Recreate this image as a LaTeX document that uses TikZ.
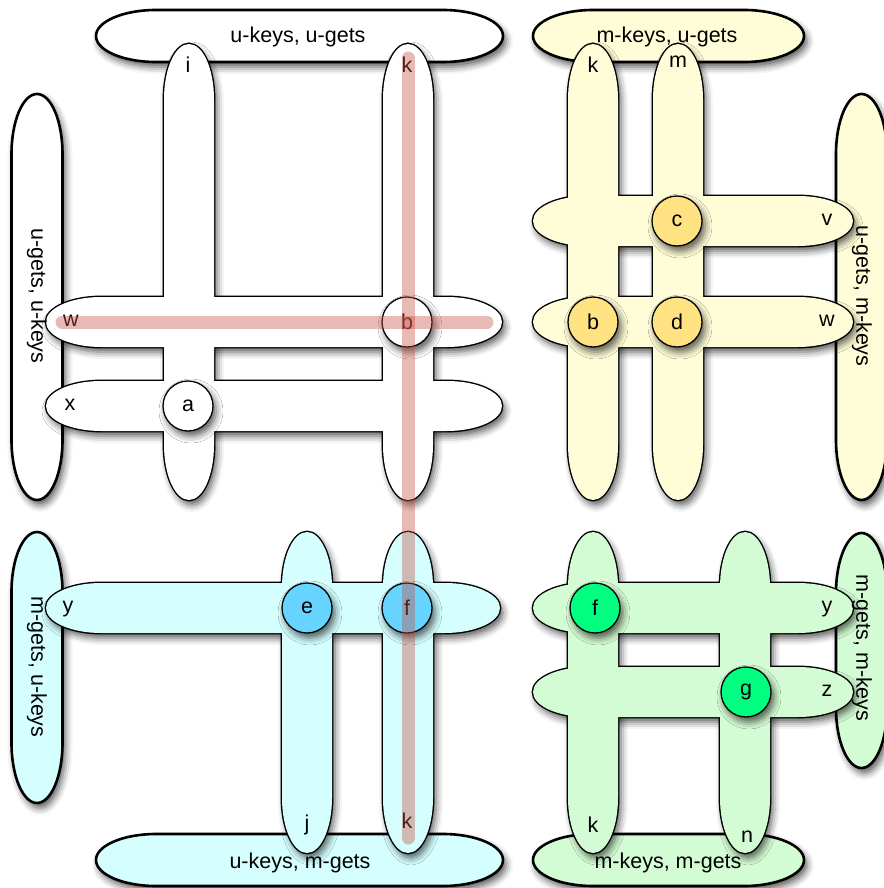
\documentclass[tikz,border=0pt]{standalone}
\usepackage{fontspec}
\setmainfont{Liberation Sans}
\usetikzlibrary{shadows.blur}
\definecolor{yelbar}{RGB}{255,253,216}
\definecolor{yelcirc}{RGB}{255,227,131}
\definecolor{cyanbar}{RGB}{213,255,255}
\definecolor{bluecirc}{RGB}{102,212,255}
\definecolor{grnbar}{RGB}{212,252,212}
\definecolor{grncirc}{RGB}{0,255,128}
\definecolor{redl}{RGB}{200,80,70}
% vertical pill: opts, cx, y1, y2, r, L
\newcommand\pillV[6]{\path[#1] ({#2-#5},{#3+#6}) -- ({#2-#5},{#4-#6}) arc[start angle=180,end angle=0,x radius=#5,y radius=#6] -- ({#2+#5},{#3+#6}) arc[start angle=0,end angle=-180,x radius=#5,y radius=#6] -- cycle;}
% horizontal pill: opts, x1, x2, cy, r, L
\newcommand\pillH[6]{\path[#1] ({#2+#6},{#4-#5}) -- ({#3-#6},{#4-#5}) arc[start angle=-90,end angle=90,x radius=#6,y radius=#5] -- ({#2+#6},{#4+#5}) arc[start angle=90,end angle=270,x radius=#6,y radius=#5] -- cycle;}
\newcommand\barsTL[1]{%
 \pillV{#1}{189}{44}{500}{25}{55}\pillV{#1}{408}{44}{500}{25}{55}%
 \pillH{#1}{46}{502}{322}{25}{55}\pillH{#1}{46}{502}{406}{25}{55}}
\newcommand\barsTR[1]{%
 \pillV{#1}{593}{44}{500}{25}{55}\pillV{#1}{678}{44}{500}{25}{55}%
 \pillH{#1}{533}{853}{221}{25}{55}\pillH{#1}{533}{853}{322}{25}{55}}
\newcommand\barsBL[1]{%
 \pillV{#1}{307}{532}{853}{25}{55}\pillV{#1}{408}{532}{853}{25}{55}%
 \pillH{#1}{46}{500}{608}{25}{55}}
\newcommand\barsBR[1]{%
 \pillV{#1}{593}{532}{853}{25}{55}\pillV{#1}{745}{532}{853}{25}{55}%
 \pillH{#1}{533}{853}{608}{25}{55}\pillH{#1}{533}{853}{692}{25}{55}}
\tikzset{
 shad/.style={blur shadow={shadow xshift=3pt,shadow yshift=-5pt,shadow blur radius=7pt,shadow opacity=65}},
 stad/.style={draw=black,line width=2.6pt,shad},
 barline/.style={draw=black,line width=2.8pt},
 txt/.style={font=\fontsize{21.5}{26}\selectfont},
 circ/.style={circle,draw=black,line width=1.3pt,minimum size=50pt,inner sep=0pt,shad,txt},
 lab/.style={anchor=base,txt,inner sep=0pt},
 stext/.style={txt,inner sep=0pt},
 redline/.style={draw=redl,opacity=0.4,line width=13pt,line cap=round},
}
\begin{document}
\begin{tikzpicture}[x=1pt,y=-1pt]
\useasboundingbox (0,0) rectangle (883,888);
% label containers
\pillH{stad,fill=white}{96}{503}{36}{26}{60}
\pillV{stad,fill=white}{37}{94}{500}{25.5}{60}
\pillH{stad,fill=yelbar}{533}{804}{36}{26}{60}
\pillV{stad,fill=yelbar}{861.5}{94}{500}{25.5}{60}
\pillV{stad,fill=cyanbar}{37}{532}{803}{25.5}{60}
\pillH{stad,fill=cyanbar}{96}{503}{860}{26}{60}
\pillV{stad,fill=grnbar}{861.5}{533}{768}{25.5}{60}
\pillH{stad,fill=grnbar}{533}{804}{860}{26}{60}
% bars: shadows, outlines, fills
\barsTL{shad}\barsTR{shad}\barsBL{shad}\barsBR{shad}
\barsTL{barline}\barsTR{barline}\barsBL{barline}\barsBR{barline}
\barsTL{fill=white}\barsTR{fill=yelbar}\barsBL{fill=cyanbar}\barsBR{fill=grnbar}
% circles
\node[circ,fill=white] (a) at (188,406) {a};
\node[circ,fill=white] (b1) at (407,322) {b};
\node[circ,fill=yelcirc] (c) at (677,221) {c};
\node[circ,fill=yelcirc] (b2) at (593,322) {b};
\node[circ,fill=yelcirc] (d) at (677,322) {d};
\node[circ,fill=bluecirc] (e) at (307,608) {e};
\node[circ,fill=bluecirc] (f1) at (407,608) {f};
\node[circ,fill=grncirc] (f2) at (595,608) {f};
\node[circ,fill=grncirc] (g) at (746,692) {g};
% bar labels
\node[lab] (li) at (188,73) {i};
\node[lab] (lk1) at (407,73) {k};
\node[lab] (lw1) at (71,326) {w};
\node[lab] (lx) at (70,410) {x};
\node[lab] (lk2) at (593,73) {k};
\node[lab] (lm) at (678,68) {m};
\node[lab] (lv) at (827,225) {v};
\node[lab] (lw2) at (827,326) {w};
\node[lab] (ly1) at (68,612) {y};
\node[lab] (lj) at (307,830) {j};
\node[lab] (lk3) at (407,828) {k};
\node[lab] (ly2) at (827,612) {y};
\node[lab] (lz) at (827,696) {z};
\node[lab] (lk4) at (593,832) {k};
\node[lab] (ln) at (747,842) {n};
% container labels
\node[stext,anchor=base] (t1) at (298,43) {u-keys, u-gets};
\node[stext,anchor=base] (t2) at (667,43) {m-keys, u-gets};
\node[stext,anchor=base] (t3) at (300,868) {u-keys, m-gets};
\node[stext,anchor=base] (t4) at (668,868) {m-keys, m-gets};
\node[stext,rotate=-90] (t5) at (37,296) {u-gets, u-keys};
\node[stext,rotate=-90] (t6) at (862,296) {u-gets, m-keys};
\node[stext,rotate=-90] (t7) at (37,667) {m-gets, u-keys};
\node[stext,rotate=-90] (t8) at (862,648) {m-gets, m-keys};
% red paths
\coordinate (rw1) at (62,322);
\coordinate (rw2) at (487,322);
\coordinate (rk1) at (408,58);
\coordinate (rk2) at (408,838);
\draw[redline] (rw1) -- (rw2);
\draw[redline] (rk1) -- (rk2);
\end{tikzpicture}
\end{document}
